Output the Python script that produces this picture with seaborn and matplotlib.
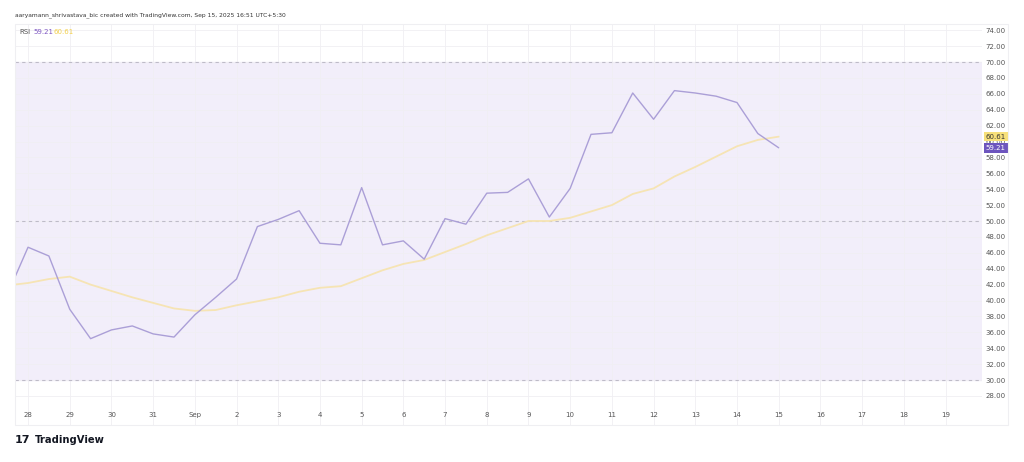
import matplotlib
matplotlib.use("Agg")
import matplotlib.pyplot as plt
import matplotlib.dates as mdates
from matplotlib.patches import Rectangle
import seaborn as sns
import pandas as pd
import numpy as np

# ---- data (12h bars, starting Aug 27 12:00) ----
rsi_values = [40.7, 46.7, 45.6, 38.9, 35.2, 36.3, 36.8, 35.8, 35.4, 38.2,
              40.4, 42.7, 49.3, 50.2, 51.3, 47.2, 47.0, 54.2, 47.0, 47.5,
              45.2, 50.3, 49.6, 53.5, 53.6, 55.3, 50.5, 54.1, 60.9, 61.1,
              66.1, 62.8, 66.4, 66.1, 65.7, 64.9, 61.0, 59.21]
ma_values = [41.9, 42.2, 42.7, 43.0, 42.0, 41.2, 40.4, 39.7, 39.0, 38.7,
             38.8, 39.4, 39.9, 40.4, 41.1, 41.6, 41.8, 42.8, 43.8, 44.6,
             45.1, 46.1, 47.1, 48.2, 49.1, 50.0, 50.0, 50.4, 51.2, 52.0,
             53.4, 54.1, 55.6, 56.8, 58.1, 59.4, 60.2, 60.61]
start_time = "2025-08-27 12:00"
day_ticks = pd.date_range("2025-08-28", "2025-09-19", freq="D")
day_labels = ["Sep" if d.day == 1 else str(d.day) for d in day_ticks]
y_ticks = list(range(28, 76, 2))
band_levels = [30, 50, 70]
rsi_last, ma_last = 59.21, 60.61
header = "aaryamann_shrivastava_bic created with TradingView.com, Sep 15, 2025 16:51 UTC+5:30"

times = pd.date_range(start_time, periods=len(rsi_values), freq="12h")
df = pd.DataFrame({"time": times, "rsi": rsi_values, "ma": ma_values})

W, H = 1024, 462
fig = plt.figure(figsize=(W / 100, H / 100), dpi=100)
fig.patch.set_facecolor("white")

left, right, top, bottom = 15, 982, 24, 425
ax = fig.add_axes([left / W, 1 - bottom / H, (right - left) / W, (bottom - top) / H])
sns.set_style("white")
ax.set_facecolor("white")

# panel border including price scale
fig.add_artist(Rectangle((left / W, 1 - bottom / H), (1008 - left) / W, (bottom - top) / H,
                         transform=fig.transFigure, fill=False, edgecolor="#efeff2", lw=0.8))

ax.axhspan(band_levels[0], band_levels[2], color="#f2eefa", zorder=0)
for lv in band_levels:
    ax.axhline(lv, color="#bebbc8", lw=0.8, ls=(0, (3, 3)), zorder=1)

sns.lineplot(data=df, x="time", y="ma", ax=ax, color="#f6e4b4", lw=1.3, zorder=3)
sns.lineplot(data=df, x="time", y="rsi", ax=ax, color="#ab9fd7", lw=1.0, zorder=4)

ax.set_xlim(pd.Timestamp("2025-08-27 16:30"), pd.Timestamp("2025-09-19 21:00"))
ax.set_ylim(24.34, 74.78)

ax.set_xticks(day_ticks)
ax.set_xticklabels(day_labels)
ax.set_yticks(y_ticks)
ax.set_yticklabels([f"{v:.2f}" for v in y_ticks])
ax.yaxis.tick_right()
ax.tick_params(axis="x", length=0, pad=-9.5, labelsize=5, labelcolor="#555555")
ax.tick_params(axis="y", length=0, pad=2.5, labelsize=5, labelcolor="#555555")
ax.grid(True, color="#f0eff3", lw=0.6, zorder=0)
ax.set_axisbelow(True)
ax.set_xlabel("")
ax.set_ylabel("")
for s in ax.spines.values():
    s.set_visible(False)

# last-value badges
ax.text(1.004, ma_last, f"{ma_last:.2f}", transform=ax.get_yaxis_transform(),
        fontsize=5, color="#333333", va="center", ha="left", zorder=6,
        bbox=dict(boxstyle="square,pad=0.25", fc="#f7e07a", ec="none"), clip_on=False)
ax.text(1.004, rsi_last, f"{rsi_last:.2f}", transform=ax.get_yaxis_transform(),
        fontsize=5, color="white", va="center", ha="left", zorder=7,
        bbox=dict(boxstyle="square,pad=0.25", fc="#6d55be", ec="none"), clip_on=False)

# header texts
fig.text(15 / W, 1 - 15 / H, header, fontsize=4.3, color="#333333", va="center", ha="left")
fig.text(19 / W, 1 - 32 / H, "RSI", fontsize=5, color="#555555", va="center", ha="left")
fig.text(33 / W, 1 - 32 / H, f"{rsi_last:.2f}", fontsize=5, color="#7e57c2", va="center", ha="left")
fig.text(53 / W, 1 - 32 / H, f"{ma_last:.2f}", fontsize=5, color="#f2cf4a", va="center", ha="left")

# footer logo
fig.text(15 / W, 1 - 440 / H, "17", fontsize=8, fontweight="heavy", color="#131722",
         va="center", ha="left")
fig.text(35 / W, 1 - 440 / H, "TradingView", fontsize=7.2, fontweight="bold", color="#131722",
         va="center", ha="left")

fig.savefig("out.png", dpi=100, facecolor="white")
